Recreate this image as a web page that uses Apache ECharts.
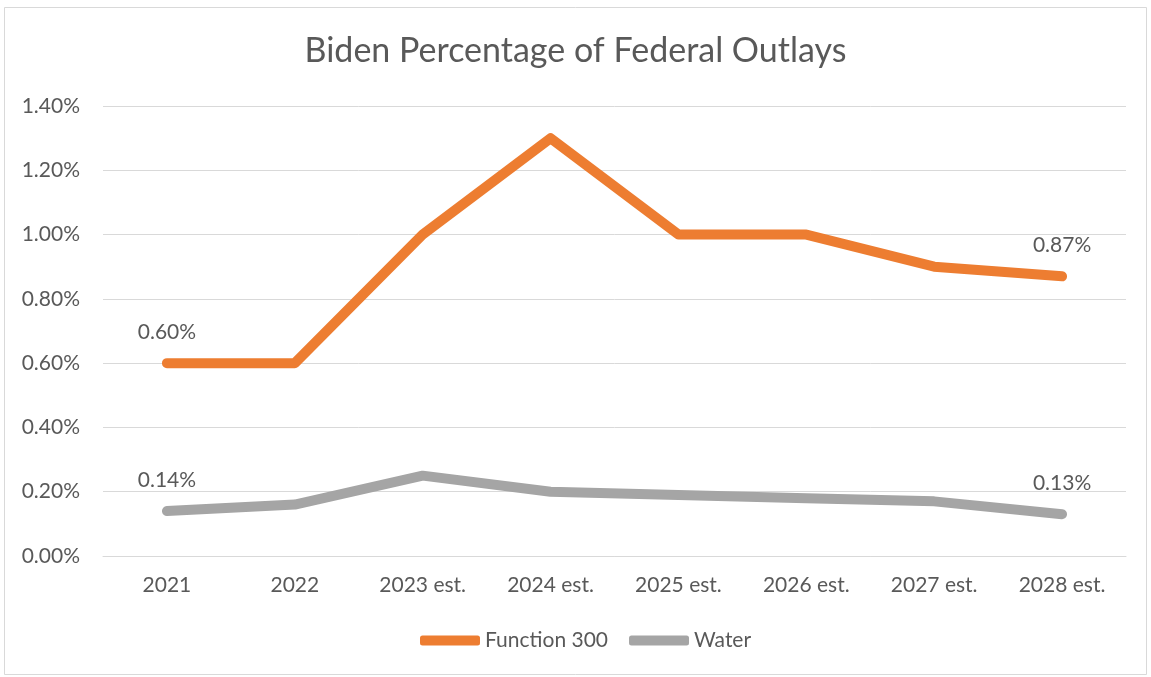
<!DOCTYPE html>
<html>
<head>
<meta charset="utf-8">
<script src="https://cdn.jsdelivr.net/npm/echarts@6/dist/echarts.min.js"></script>
<style>
  html, body { margin: 0; padding: 0; background: #fff; }
  #chart { width: 1151px; height: 677px; }
</style>
</head>
<body>
<div id="chart"></div>
<script>
// Share of federal outlays, in percent
const years = ['2021', '2022', '2023 est.', '2024 est.', '2025 est.', '2026 est.', '2027 est.', '2028 est.'];
const function300 = [0.60, 0.60, 1.00, 1.30, 1.00, 1.00, 0.90, 0.87];
const water = [0.14, 0.16, 0.25, 0.20, 0.19, 0.18, 0.17, 0.13];
const yTicks = { min: 0, max: 1.4, interval: 0.2 };

const FONT = 'Lato, "Open Sans", sans-serif';
const TEXT = '#595959';
const FS = 21;
const ORANGE = '#ED7D31';
const GREY = '#A5A5A5';

// Only the first and last points carry a value label
function endLabel(p) {
  const n = years.length;
  return (p.dataIndex === 0 || p.dataIndex === n - 1) ? p.value.toFixed(2) + '%' : '';
}

function lineSeries(name, data, color) {
  return {
    name: name,
    type: 'line',
    data: data,
    showSymbol: true,
    symbol: 'circle',
    symbolSize: 1,
    itemStyle: { color: 'transparent', borderWidth: 0 },
    lineStyle: { width: 10, color: color, cap: 'round', join: 'round' },
    label: {
      show: true,
      position: 'top',
      distance: 20,
      formatter: endLabel,
      color: TEXT,
      fontSize: FS,
      fontFamily: FONT
    },
    emphasis: { disabled: true },
    animation: false
  };
}

const chart = echarts.init(document.getElementById('chart'), null, { renderer: 'canvas' });
chart.setOption({
  backgroundColor: '#fff',
  animation: false,
  title: {
    text: 'Biden Percentage of Federal Outlays',
    left: 'center',
    top: 29,
    textStyle: { color: TEXT, fontSize: 34, fontWeight: 'normal', fontFamily: FONT }
  },
  graphic: [{
    type: 'rect',
    shape: { x: 4.5, y: 7.5, width: 1142, height: 667 },
    style: { fill: 'none', stroke: '#d9d9d9', lineWidth: 1 },
    silent: true
  }],
  legend: {
    bottom: 21,
    left: 415,
    itemWidth: 60,
    itemHeight: 10,
    itemGap: 21,
    icon: 'roundRect',
    textStyle: { color: TEXT, fontSize: FS, fontFamily: FONT },
    data: [
      { name: 'Function 300', itemStyle: { color: ORANGE } },
      { name: 'Water', itemStyle: { color: GREY } }
    ]
  },
  grid: { left: 103, right: 25, top: 106, bottom: 121, containLabel: false },
  xAxis: {
    type: 'category',
    data: years,
    boundaryGap: true,
    axisLine: { show: true, lineStyle: { color: '#d9d9d9', width: 1 } },
    axisTick: { show: false },
    axisLabel: { color: TEXT, fontSize: FS, fontFamily: FONT, margin: 19 }
  },
  yAxis: {
    type: 'value',
    min: yTicks.min,
    max: yTicks.max,
    interval: yTicks.interval,
    axisLine: { show: false },
    axisTick: { show: false },
    splitLine: { lineStyle: { color: '#d9d9d9', width: 1 } },
    axisLabel: {
      color: TEXT, fontSize: FS, fontFamily: FONT, margin: 23,
      formatter: v => v.toFixed(2) + '%'
    }
  },
  series: [
    lineSeries('Function 300', function300, ORANGE),
    lineSeries('Water', water, GREY)
  ]
});
</script>
</body>
</html>
